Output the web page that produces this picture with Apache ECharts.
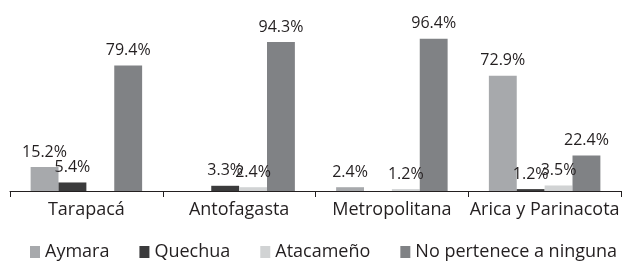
<!DOCTYPE html>
<html>
<head>
<meta charset="utf-8">
<script src="https://cdn.jsdelivr.net/npm/echarts@6/dist/echarts.min.js"></script>
<style>
  html, body { margin: 0; padding: 0; background: #fff; }
  #chart { width: 624px; height: 261px; }
</style>
</head>
<body>
<div id="chart"></div>
<script>
// regiones y porcentajes por pueblo
const regiones = ["Tarapacá", "Antofagasta", "Metropolitana", "Arica y Parinacota"];
const aymara = [15.2, null, 2.4, 72.9];
const quechua = [5.4, 3.3, null, 1.2];
const atacameno = [null, 2.4, 1.2, 3.5];
const ninguna = [79.4, 94.3, 96.4, 22.4];

const fuente = "Open Sans";

function serie(name, data, color) {
  return {
    name: name,
    type: "bar",
    data: data,
    barGap: "0%",
    barCategoryGap: "27%",
    itemStyle: { color: color },
    label: {
      show: true,
      position: "top",
      distance: 7,
      formatter: (p) => p.value.toFixed(1) + "%",
      color: "#231f20",
      fontFamily: fuente,
      fontSize: 16,
    },
  };
}

const chart = echarts.init(document.getElementById("chart"));
chart.setOption({
  animation: false,
  textStyle: { fontFamily: fuente },
  grid: { left: 10, right: 3, top: 33, bottom: 70 },
  legend: {
    bottom: 0,
    left: 30,
    width: 594,
    padding: 0,
    icon: "rect",
    itemWidth: 10,
    itemHeight: 12,
    itemGap: 30,
    textStyle: { fontSize: 18, color: "#231f20", fontFamily: fuente },
    data: ["Aymara", "Quechua", "Atacameño", "No pertenece a ninguna"],
  },
  xAxis: {
    type: "category",
    data: regiones,
    axisLine: { lineStyle: { color: "#231f20", width: 1 } },
    axisTick: { show: true, length: 6, lineStyle: { color: "#231f20" } },
    axisLabel: { interval: 0, fontSize: 18, color: "#231f20", margin: 10 },
  },
  yAxis: {
    type: "value",
    min: 0,
    max: 100,
    show: false,
    splitLine: { show: false },
  },
  series: [
    serie("Aymara", aymara, "#a7a9ac"),
    serie("Quechua", quechua, "#3b3b3c"),
    serie("Atacameño", atacameno, "#d1d3d4"),
    serie("No pertenece a ninguna", ninguna, "#808285"),
  ],
});
</script>
</body>
</html>
